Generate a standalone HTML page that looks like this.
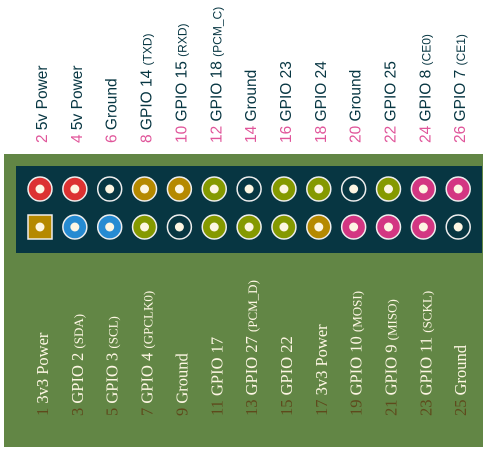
<!DOCTYPE html>
<html><head><meta charset="utf-8"><style>
html,body{margin:0;padding:0;background:#fff;width:485px;height:457px;overflow:hidden}
svg{display:block}
.top{font-family:"Liberation Sans",sans-serif;font-size:15.5px;fill:#073642}
.top .n{fill:#e0559a}
.top .sm{font-size:12px}
.bot{font-family:"Liberation Serif",serif;font-size:16.5px;fill:#fdf6e3}
.bot .n{fill:#5e4a1c}
.bot .sm{font-size:13px}
</style></head><body>
<svg width="485" height="457">
<rect x="4" y="154" width="479" height="293" fill="#628645"/>
<rect x="16" y="166" width="466" height="87" fill="#073642"/>
<g id="pins"></g><g id="labels"></g>
</svg>
<script>
const topNums=[2,4,6,8,10,12,14,16,18,20,22,24,26];
const topNames=["5v Power","5v Power","Ground","GPIO 14","GPIO 15","GPIO 18","Ground","GPIO 23","GPIO 24","Ground","GPIO 25","GPIO 8","GPIO 7"];
const topExtra=["","","","(TXD)","(RXD)","(PCM_C)","","","","","","(CE0)","(CE1)"];
const topColors=["#dc3232","#dc3232","#073642","#b58900","#b58900","#859900","#073642","#859900","#859900","#073642","#859900","#d33682","#d33682"];
const botNums=[1,3,5,7,9,11,13,15,17,19,21,23,25];
const botNames=["3v3 Power","GPIO 2","GPIO 3","GPIO 4","Ground","GPIO 17","GPIO 27","GPIO 22","3v3 Power","GPIO 10","GPIO 9","GPIO 11","Ground"];
const botExtra=["","(SDA)","(SCL)","(GPCLK0)","","","(PCM_D)","","","(MOSI)","(MISO)","(SCKL)",""];
const botColors=["#b58900","#268bd2","#268bd2","#859900","#073642","#859900","#859900","#859900","#b58900","#d33682","#d33682","#d33682","#073642"];
const NS="http://www.w3.org/2000/svg";
const xPin=i=>40+i*34.85;
const pins=document.getElementById('pins'),labels=document.getElementById('labels');
function mk(t,a,p){const e=document.createElementNS(NS,t);for(const k in a)e.setAttribute(k,a[k]);p.appendChild(e);return e;}
function pin(i,y,color,square,num){
  const g=mk('g',{},pins);
  
  
  const x=xPin(i);
  if(square)mk('rect',{x:x-12,y:y-12,width:24,height:24,fill:color,stroke:'#eee','stroke-width':1.5},g);
  else mk('circle',{cx:x,cy:y,r:12,fill:color,stroke:'#eee','stroke-width':1.5},g);
  mk('circle',{cx:x,cy:y,r:4.5,fill:'#fdf6e3'},g);
}
function label(i,y,dx,cls,num,name,extra){
  const t=mk('text',{transform:`translate(${xPin(i)+dx},${y}) rotate(-90)`,class:cls},labels);
  
  
  mk('tspan',{class:'n'},t).textContent=num+' ';
  mk('tspan',{},t).textContent=name+(extra?' ':'');
  if(extra)mk('tspan',{class:'sm'},t).textContent=extra;
}
topNums.forEach((n,i)=>{pin(i,189,topColors[i],false,n);label(i,143,7,'top',n,topNames[i],topExtra[i]);});
botNums.forEach((n,i)=>{pin(i,227,botColors[i],i===0,n);label(i,416,8,'bot',n,botNames[i],botExtra[i]);});
</script>
</body></html>
